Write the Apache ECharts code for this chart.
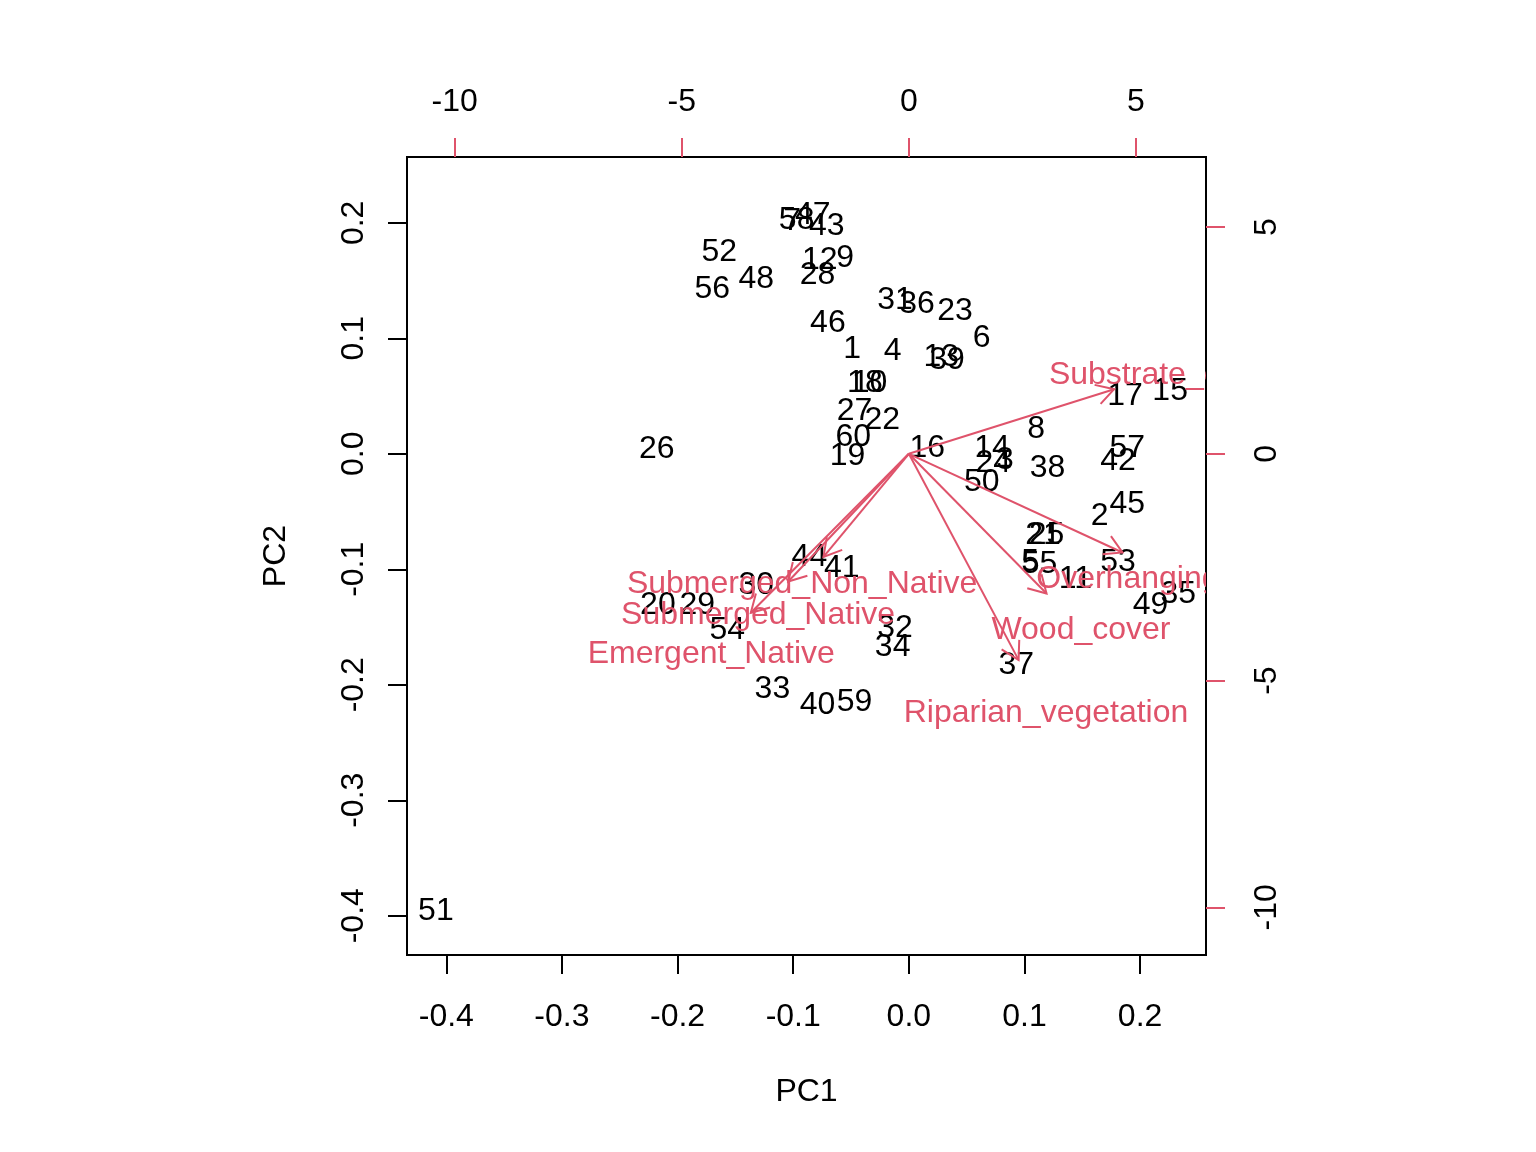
<!DOCTYPE html>
<html>
<head>
<meta charset="utf-8">
<script src="https://cdn.jsdelivr.net/npm/echarts@6/dist/echarts.min.js"></script>
<style>
  html, body { margin: 0; padding: 0; background: #fff; }
  #chart { width: 1536px; height: 1152px; }
</style>
</head>
<body>
<div id="chart"></div>
<script>
// site scores (PC1, PC2), labels are the row numbers
var siteLabels = ['1','2','3','4','5','6','7','8','9','10','11','12','13','14','15','16','17','18','19','20',
                  '21','22','23','24','25','26','27','28','29','30','31','32','33','34','35','36','37','38','39','40',
                  '41','42','43','44','45','46','47','48','49','50','51','52','53','54','55','56','57','58','59','60'];
var siteX = [-0.049, 0.165, 0.083,-0.014, 0.105, 0.063,-0.101, 0.110,-0.055,-0.034,
              0.144,-0.077, 0.028, 0.072, 0.226, 0.016, 0.187,-0.038,-0.053,-0.217,
              0.116,-0.023, 0.040, 0.073, 0.119,-0.218,-0.047,-0.079,-0.183,-0.132,
             -0.012,-0.012,-0.118,-0.014, 0.233, 0.007, 0.093, 0.120, 0.033,-0.079,
             -0.058, 0.181,-0.071,-0.086, 0.189,-0.070,-0.083,-0.132, 0.209, 0.063,
             -0.409,-0.164, 0.181,-0.157, 0.113,-0.170, 0.189,-0.097,-0.047,-0.048];
var siteY = [ 0.092,-0.052,-0.004, 0.091,-0.092, 0.102, 0.203, 0.023, 0.171, 0.063,
             -0.107, 0.169, 0.085, 0.007, 0.056, 0.007, 0.052, 0.063, 0.000,-0.129,
             -0.069, 0.031, 0.125,-0.006,-0.069, 0.006, 0.039, 0.156,-0.129,-0.112,
              0.135,-0.149,-0.202,-0.166,-0.120, 0.131,-0.181,-0.011, 0.083,-0.216,
             -0.097,-0.005, 0.199,-0.088,-0.042, 0.115, 0.208, 0.153,-0.129,-0.023,
             -0.394, 0.176,-0.092,-0.151,-0.094, 0.144, 0.007, 0.204,-0.213, 0.016];

// variable loadings (secondary axes)
var varNames = ['Substrate_cover','Overhanging_cover','Wood_cover','Riparian_vegetation',
                'Submerged_Non_Native','Submerged_Native','Emergent_Native'];
var varX = [ 5.65,  5.88,  3.79,  3.02, -2.35, -3.32, -4.35];
var varY = [ 1.78, -2.72, -3.85, -5.68, -2.84, -3.52, -4.38];

var pcLim = [-0.434, 0.257];
var ldLim = [-11.05, 6.543];
var pcTicks = [-0.4, -0.3, -0.2, -0.1, 0.0, 0.1, 0.2];
var ldTicks = [-10, -5, 0, 5];

var red = '#DF536B';
var fnt = 'Liberation Sans, Arial, Helvetica, sans-serif';
var fs = 32;
var dy = 2; // nudge so the text sits centred like R's text()

var chart = echarts.init(document.getElementById('chart'));

function axisCommon(ticks, col, fmt) {
  return {
    axisLine: { show: false, onZero: false },
    axisTick: { show: true, customValues: ticks, length: 19, lineStyle: { color: col, width: 2 } },
    axisLabel: { customValues: ticks, color: '#000', fontSize: fs, fontFamily: fnt, formatter: fmt },
    splitLine: { show: false }
  };
}

var xBottom = Object.assign({ type: 'value', position: 'bottom', gridIndex: 0, min: pcLim[0], max: pcLim[1],
  name: 'PC1', nameLocation: 'middle', nameGap: 121,
  nameTextStyle: { fontSize: fs, fontFamily: fnt, color: '#000' } },
  axisCommon(pcTicks, '#000', function (v) { return v.toFixed(1); }));
xBottom.axisLabel.margin = 46;

var xTop = Object.assign({ type: 'value', position: 'top', gridIndex: 0, min: ldLim[0], max: ldLim[1] },
  axisCommon(ldTicks, red, function (v) { return String(v); }));
xTop.axisLabel.margin = 39;

var yLeft = Object.assign({ type: 'value', position: 'left', gridIndex: 0, min: pcLim[0], max: pcLim[1],
  name: 'PC2', nameLocation: 'middle', nameGap: 115, nameRotate: 90,
  nameTextStyle: { fontSize: fs, fontFamily: fnt, color: '#000' } },
  axisCommon(pcTicks, '#000', function (v) { return v.toFixed(1); }));
yLeft.axisLabel.rotate = 90;
yLeft.axisLabel.margin = 37;

var yRight = Object.assign({ type: 'value', position: 'right', gridIndex: 0, min: ldLim[0], max: ldLim[1] },
  axisCommon(ldTicks, red, function (v) { return String(v); }));
yRight.axisLabel.rotate = 90;
yRight.axisLabel.margin = 45;

var option = {
  animation: false,
  backgroundColor: '#fff',
  grid: { left: 407, top: 157, width: 799, height: 798, show: true, borderColor: '#000', borderWidth: 2,
          backgroundColor: 'transparent', containLabel: false },
  xAxis: [xBottom, xTop],
  yAxis: [yLeft, yRight],
  series: [
    {
      // site numbers
      type: 'custom', coordinateSystem: 'cartesian2d', xAxisIndex: 0, yAxisIndex: 0, clip: true,
      data: siteX.map(function (x, i) { return [x, siteY[i]]; }),
      renderItem: function (params, api) {
        var p = api.coord([api.value(0), api.value(1)]);
        return { type: 'text', x: p[0], y: p[1] + dy,
          style: { text: siteLabels[params.dataIndex], fill: '#000', fontSize: fs, fontFamily: fnt,
                   align: 'center', verticalAlign: 'middle' } };
      }
    },
    {
      // loading arrows, drawn to 0.8 of the loading like biplot()
      type: 'custom', coordinateSystem: 'cartesian2d', xAxisIndex: 1, yAxisIndex: 1, clip: true,
      data: varX.map(function (x, i) { return [x, varY[i]]; }),
      renderItem: function (params, api) {
        var o = api.coord([0, 0]);
        var t = api.coord([api.value(0) * 0.8, api.value(1) * 0.8]);
        var ang = Math.atan2(t[1] - o[1], t[0] - o[0]);
        var hl = 20, ha = Math.PI / 6;
        var h1 = [t[0] - hl * Math.cos(ang - ha), t[1] - hl * Math.sin(ang - ha)];
        var h2 = [t[0] - hl * Math.cos(ang + ha), t[1] - hl * Math.sin(ang + ha)];
        var st = { stroke: red, lineWidth: 2, fill: null };
        return { type: 'group', children: [
          { type: 'line', shape: { x1: o[0], y1: o[1], x2: t[0], y2: t[1] }, style: st },
          { type: 'polyline', shape: { points: [h1, t, h2] }, style: st }
        ] };
      }
    },
    {
      // variable names
      type: 'custom', coordinateSystem: 'cartesian2d', xAxisIndex: 1, yAxisIndex: 1, clip: true,
      data: varX.map(function (x, i) { return [x, varY[i]]; }),
      renderItem: function (params, api) {
        var p = api.coord([api.value(0), api.value(1)]);
        return { type: 'text', x: p[0], y: p[1] + dy,
          style: { text: varNames[params.dataIndex], fill: red, fontSize: fs, fontFamily: fnt,
                   align: 'center', verticalAlign: 'middle' } };
      }
    }
  ]
};

chart.setOption(option);
</script>
</body>
</html>
